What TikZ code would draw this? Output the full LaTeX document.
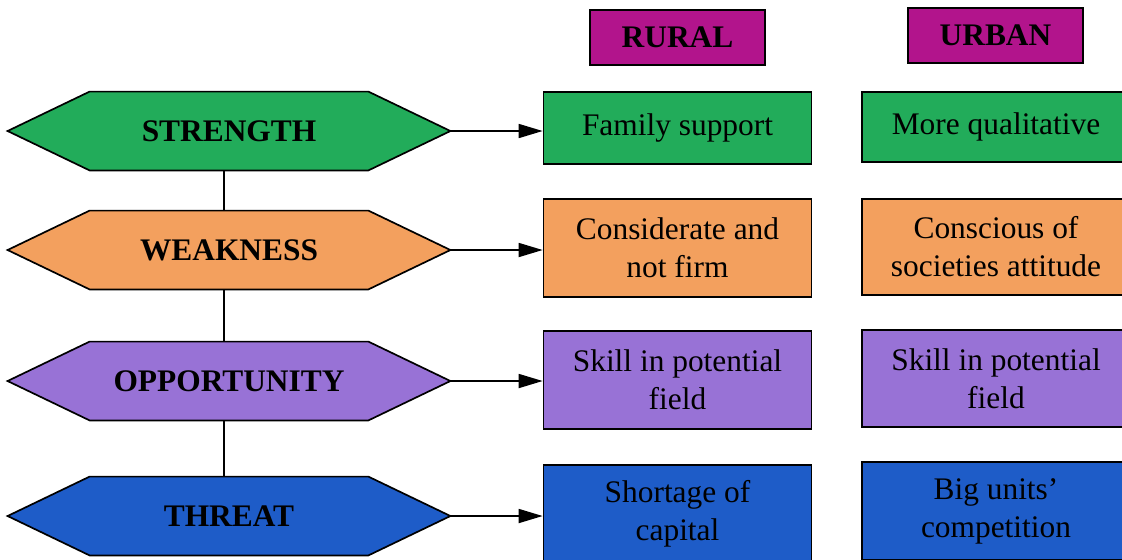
\documentclass[tikz,border=0pt]{standalone}
\usepackage{fontspec}
\setmainfont{Liberation Serif}
\usetikzlibrary{arrows.meta}

\definecolor{swotgreen}{RGB}{34,172,90}
\definecolor{swotorange}{RGB}{243,160,94}
\definecolor{swotpurple}{RGB}{152,114,214}
\definecolor{swotblue}{RGB}{30,92,200}
\definecolor{swotmagenta}{RGB}{178,20,140}

\pgfdeclarelayer{background}
\pgfsetlayers{background,main}

\begin{document}
\begin{tikzpicture}[x=0.5pt, y=-0.5pt,
        every node/.style={font=\fontsize{15.7}{19}\selectfont},
        hexa/.style={minimum width=221pt, minimum height=39pt, inner sep=0pt,
                     font=\fontsize{15.7}{19}\selectfont\bfseries},
        cell/.style={draw, line width=0.85pt, minimum width=134pt, inner sep=0pt, align=center},
        head/.style={draw, line width=0.85pt, fill=swotmagenta, minimum width=87.5pt,
                     minimum height=27.5pt, inner sep=0pt, font=\fontsize{15.7}{19}\selectfont\bfseries},
        link/.style={line width=0.85pt, -{Triangle[length=12pt, width=7pt]}}]
    \useasboundingbox (0,0) rectangle (1122,559);

    \node[head] (rural) at (677.5,37.5) {RURAL};
    \node[head] (urban) at (995.5,35.5) {URBAN};

    \node[hexa] (str) at (229,131) {STRENGTH};
    \node[hexa] (wea) at (229,250) {WEAKNESS};
    \node[hexa] (opp) at (229,381) {OPPORTUNITY};
    \node[hexa] (thr) at (229,516) {THREAT};

    \node[cell, fill=swotgreen, minimum height=36pt] (r1) at (677.5,128) {Family support};
    \node[cell, fill=swotorange, minimum height=49pt] (r2) at (677.5,248) {Considerate and\\not firm};
    \node[cell, fill=swotpurple, minimum height=49pt] (r3) at (677.5,380) {Skill in potential\\field};
    \node[cell, fill=swotblue, minimum height=49pt] (r4) at (677.5,514) {Shortage of\\capital};

    \node[cell, fill=swotgreen, minimum height=35pt] (u1) at (996,127) {More qualitative};
    \node[cell, fill=swotorange, minimum height=48pt] (u2) at (996,247) {Conscious of\\societies attitude};
    \node[cell, fill=swotpurple, minimum height=48.5pt] (u3) at (996,378.5) {Skill in potential\\field};
    \node[cell, fill=swotblue, minimum height=49pt] (u4) at (996,511) {Big units'\\competition};

    \begin{pgfonlayer}{background}
        \draw[line width=0.85pt] ([xshift=-2.5pt]str.south) -- ([xshift=-2.5pt]thr.north);
        \foreach \n/\c in {str/swotgreen, wea/swotorange, opp/swotpurple, thr/swotblue}
            \draw[line width=0.85pt, fill=\c] (\n.west) -- ([xshift=41pt]\n.north west)
                -- ([xshift=-41pt]\n.north east) -- (\n.east)
                -- ([xshift=-41pt]\n.south east) -- ([xshift=41pt]\n.south west) -- cycle;
    \end{pgfonlayer}

    \foreach \a/\b in {str/r1, wea/r2, opp/r3, thr/r4}
        \draw[link] (\a.east) -- (\a.east -| \b.west);
\end{tikzpicture}
\end{document}
